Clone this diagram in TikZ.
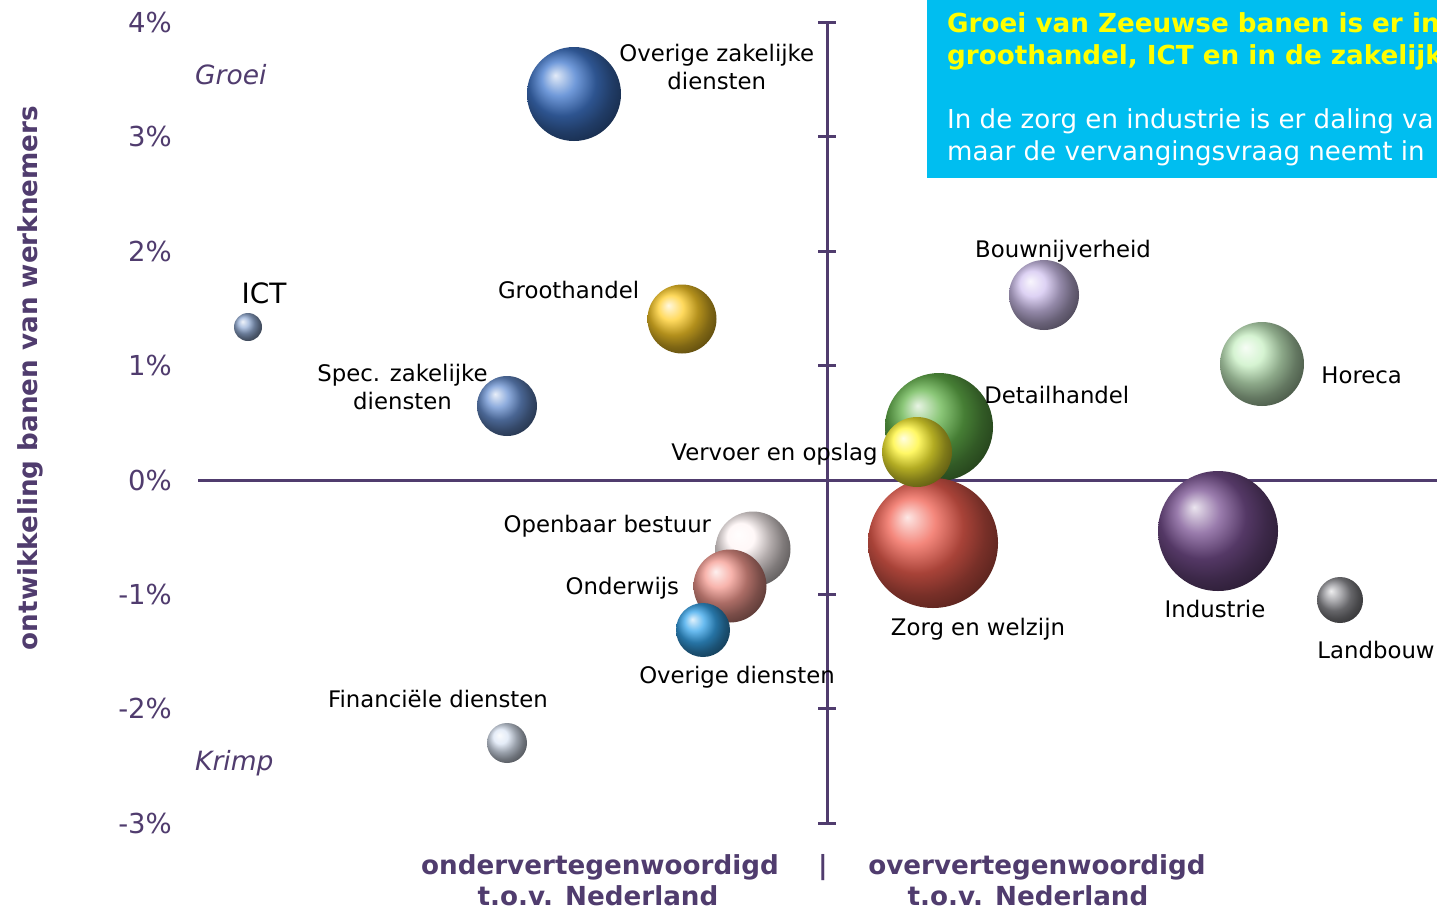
\documentclass[tikz,border=0pt]{standalone}
\usepackage{fontspec}
\setmainfont{DejaVu Sans}
\usepackage{xcolor}
\usepackage{tikz}
\usetikzlibrary{positioning}

\definecolor{paars}{RGB}{80,60,110}
\definecolor{kader}{RGB}{0,190,240}
\definecolor{kop}{RGB}{255,255,0}
\definecolor{ozdkl}{RGB}{65,120,205}
\definecolor{ictkl}{RGB}{150,175,215}
\definecolor{ghkl}{RGB}{255,205,40}
\definecolor{szdkl}{RGB}{105,145,210}
\definecolor{bouwkl}{RGB}{210,195,240}
\definecolor{horkl}{RGB}{200,240,195}
\definecolor{detkl}{RGB}{100,180,75}
\definecolor{vvokl}{RGB}{255,245,50}
\definecolor{zwkl}{RGB}{240,95,80}
\definecolor{indkl}{RGB}{120,80,145}
\definecolor{lbkl}{RGB}{145,145,150}
\definecolor{obkl}{RGB}{255,245,245}
\definecolor{owkl}{RGB}{245,155,145}
\definecolor{odkl}{RGB}{55,165,235}
\definecolor{fdkl}{RGB}{220,230,245}

\begin{document}
\begin{tikzpicture} [
	x=1pt, y=-1pt, % one unit is one pixel of the chart
	as/.style={paars, line width=3pt}, % axes and ticks
	bal/.style={circle, shade, inner sep=0pt}, % the bubbles
	lbl/.style={inner sep=0pt, font=\fontsize{22.8}{28}\selectfont}, % sector names
	pct/.style={paars, anchor=east, inner sep=0pt, font=\fontsize{27.5}{32}\selectfont},
	vet/.style={paars, inner sep=0pt, font=\fontsize{26.2}{31}\selectfont\bfseries},
	]
	\path[use as bounding box] (0,0) rectangle (1437,911);
	\clip (0,0) rectangle (1437,911);

	% box top right
	\fill[kader] (927,0) rectangle (1450,178);
	\node[kop, anchor=base west, inner sep=0pt, font=\fontsize{26.2}{32}\selectfont\bfseries] (kop1) at (947,32) {Groei van Zeeuwse banen is er in};
	\node[kop, anchor=base west, inner sep=0pt, font=\fontsize{26.2}{32}\selectfont\bfseries] (kop2) at (947,64) {groothandel, ICT en in de zakelijk};
	\node[white, anchor=base west, inner sep=0pt, font=\fontsize{26.1}{32}\selectfont] (txt1) at (947,128) {In de zorg en industrie is er daling va};
	\node[white, anchor=base west, inner sep=0pt, font=\fontsize{26.1}{32}\selectfont] (txt2) at (947,160) {maar de vervangingsvraag neemt in};

	% axes
	\coordinate (ytop) at (827,22);
	\coordinate (ybot) at (827,823);
	\coordinate (xl) at (198,480);
	\coordinate (xr) at (1450,480);
	\draw[as] (ytop) -- (ybot);
	\draw[as] (xl) -- (xr);
	\foreach \p in {-3,...,4} {
		\draw[as] (818,480-114.43*\p) -- (836,480-114.43*\p);
		\node[pct] (t\p) at (172,480-114.43*\p) {\p\%};
	}

	% axis titles
	\node[vet, rotate=90] (ytitel) at (30,378) {ontwikkeling banen van werknemers};
	\node[paars, inner sep=0pt, font=\fontsize{26.5}{32}\selectfont\itshape, anchor=west] (groei) at (195,75) {Groei};
	\node[paars, inner sep=0pt, font=\fontsize{26.5}{32}\selectfont\itshape, anchor=west] (krimp) at (195,763) {Krimp};
	\node[vet, anchor=base] (onder1) at (600,874) {ondervertegenwoordigd};
	\node[vet, anchor=base] (onder2) at (598,905) {t.o.v. Nederland};
	\node[vet, anchor=base] (streep) at (823,874) {|};
	\node[vet, anchor=base] (over1) at (1037,874) {oververtegenwoordigd};
	\node[vet, anchor=base] (over2) at (1028,905) {t.o.v. Nederland};

	% bubbles
	\node[bal, ball color=ozdkl, minimum size=94pt] (ozd) at (574,94) {};
	\node[bal, ball color=ictkl, minimum size=28pt] (ict) at (248,327) {};
	\node[bal, ball color=ghkl, minimum size=69pt] (gh) at (682,319) {};
	\node[bal, ball color=szdkl, minimum size=60pt] (szd) at (507,406) {};
	\node[bal, ball color=bouwkl, minimum size=70pt] (bouw) at (1044,295) {};
	\node[bal, ball color=horkl, minimum size=84pt] (hor) at (1262,364) {};
	\node[bal, ball color=detkl, minimum size=108pt] (det) at (939,427) {};
	\node[bal, ball color=zwkl, minimum size=130pt] (zw) at (933,543) {};
	\node[bal, ball color=vvokl, minimum size=70pt] (vvo) at (917,452) {};
	\node[bal, ball color=indkl, minimum size=120pt] (ind) at (1218,531) {};
	\node[bal, ball color=lbkl, minimum size=46pt] (lb) at (1340,600) {};
	\node[bal, ball color=obkl, minimum size=75pt] (ob) at (753,549) {};
	\node[bal, ball color=owkl, minimum size=73pt] (ow) at (730,586) {};
	\node[bal, ball color=odkl, minimum size=54pt] (od) at (703,630) {};
	\node[bal, ball color=fdkl, minimum size=40pt] (fd) at (507,743) {};

	% names of the sectors
	\node[lbl, align=center, right=-2pt of ozd, yshift=27pt] {Overige zakelijke\\diensten};
	\node[lbl, font=\fontsize{28}{32}\selectfont, above=9pt of ict, xshift=16pt] {ICT};
	\node[lbl, left=8pt of gh, yshift=29pt] {Groothandel};
	\node[lbl, align=center, left=-11pt of szd, yshift=19pt] {Spec. zakelijke\\diensten};
	\node[lbl, above=-3pt of bouw, xshift=19pt] {Bouwnijverheid};
	\node[lbl, right=17pt of hor, yshift=-11pt] {Horeca};
	\node[lbl, right=-9pt of det, yshift=32pt] {Detailhandel};
	\node[lbl, left=4pt of vvo, yshift=-2pt] {Vervoer en opslag};
	\node[lbl, below=10pt of zw, xshift=45pt] {Zorg en welzijn};
	\node[lbl, below=9pt of ind, xshift=-3pt] {Industrie};
	\node[lbl, below=18pt of lb, xshift=36pt] {Landbouw};
	\node[lbl, left=4pt of ob, yshift=23pt] {Openbaar bestuur};
	\node[lbl, left=14pt of ow, yshift=-2pt] {Onderwijs};
	\node[lbl, below=9pt of od, xshift=34pt] {Overige diensten};
	\node[lbl, above=15pt of fd, xshift=-69pt] {Financiële diensten};
\end{tikzpicture}
\end{document}
